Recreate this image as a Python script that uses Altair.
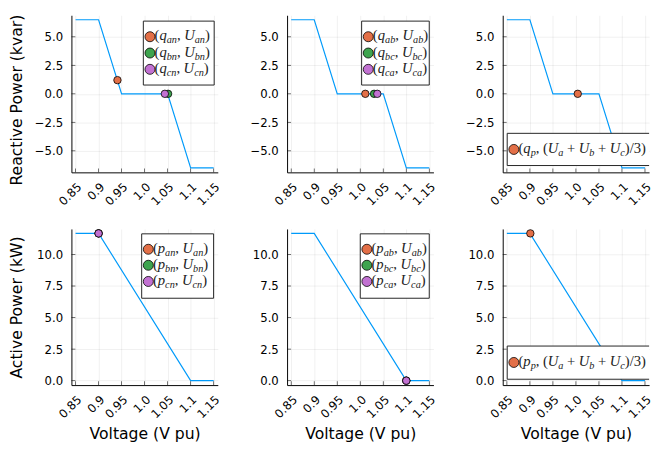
import altair as alt
import pandas as pd

# ---------------- data ----------------
# volt-var curve (kvar) and volt-watt curve (kW)
V_Q_CURVE = [0.85, 0.90, 0.95, 1.05, 1.10, 1.15]
Q_CURVE = [6.5, 6.5, 0.0, 0.0, -6.5, -6.5]
V_P_CURVE = [0.85, 0.90, 1.10, 1.15]
P_CURVE = [11.67, 11.67, 0.0, 0.0]

# operating points
Q_WYE_V = [0.941, 1.051, 1.044]
Q_WYE_Q = [1.2, 0.0, 0.0]
Q_DELTA_V = [1.011, 1.030, 1.037]
Q_DELTA_Q = [0.0, 0.0, 0.0]
Q_POS_V = [1.004]
Q_POS_Q = [0.0]
P_WYE_V = [0.900, 0.900, 0.900]
P_WYE_P = [11.67, 11.67, 11.67]
P_DELTA_V = [1.100, 1.100, 1.100]
P_DELTA_P = [0.0, 0.0, 0.0]
P_POS_V = [0.901]
P_POS_P = [11.67]

SERIES3 = ["s1", "s2", "s3"]
SERIES1 = ["s1"]

LEG_Q_WYE = ["(q_{an}, U_{an})", "(q_{bn}, U_{bn})", "(q_{cn}, U_{cn})"]
LEG_Q_DELTA = ["(q_{ab}, U_{ab})", "(q_{bc}, U_{bc})", "(q_{ca}, U_{ca})"]
LEG_Q_POS = ["(q_{p}, (U_{a} + U_{b} + U_{c})/3)"]
LEG_P_WYE = ["(p_{an}, U_{an})", "(p_{bn}, U_{bn})", "(p_{cn}, U_{cn})"]
LEG_P_DELTA = ["(p_{ab}, U_{ab})", "(p_{bc}, U_{bc})", "(p_{ca}, U_{ca})"]
LEG_P_POS = ["(p_{p}, (U_{a} + U_{b} + U_{c})/3)"]

X_TICKS = [0.85, 0.90, 0.95, 1.00, 1.05, 1.10, 1.15]
X_TICK_LABELS = ["0.85", "0.9", "0.95", "1.0", "1.05", "1.1", "1.15"]
Q_TICKS = [-5.0, -2.5, 0.0, 2.5, 5.0]
P_TICKS = [0.0, 2.5, 5.0, 7.5, 10.0]

X_TITLE = "Voltage (V pu)"
Q_TITLE = "Reactive Power (kvar)"
P_TITLE = "Active Power (kW)"

# ---------------- styling ----------------
BLUE = "#009AFA"
COLORS = ["#E36F47", "#3EA44E", "#C271D2"]
FONT = "DejaVu Sans"
W = 150
H_TOP = 161
H_BOT = 160
X_DOM = [0.841, 1.159]
Q_DOM = [-6.89, 6.89]
P_DOM = [-0.35, 12.02]

label_expr = " : ".join(
    f"abs(datum.value - {v}) < 1e-6 ? '{l}'" for v, l in zip(X_TICKS, X_TICK_LABELS)
) + " : ''"

GRID = dict(grid=True, gridColor="#000000", gridOpacity=0.1, gridWidth=0.6)


def x_axis(title):
    kw = dict(values=X_TICKS, labelExpr=label_expr, labelAngle=-45, labelAlign="right",
              labelBaseline="top", labelPadding=9, labelFlush=False, labelOverlap=False,
              labelBound=False, ticks=False, tickSize=0, domainColor="black", domainWidth=1,
              labelFont=FONT, labelFontSize=12, labelColor="black", **GRID)
    if title:
        kw.update(title=title, titleFont=FONT, titleFontSize=16, titleFontWeight="normal",
                  titleColor="black", titlePadding=6)
    else:
        kw.update(title=None)
    return alt.Axis(**kw)


def y_axis(ticks, title, title_y=None):
    kw = dict(values=ticks, format=".1f", ticks=False, tickSize=0, labelPadding=9,
              labelFlush=False, labelOverlap=False, domainColor="black", domainWidth=1,
              labelFont=FONT, labelFontSize=12, labelColor="black", minExtent=40,
              maxExtent=40, **GRID)
    if title:
        kw.update(title=title, titleFont=FONT, titleFontSize=16, titleFontWeight="normal",
                  titleColor="black", titlePadding=8)
        if title_y is not None:
            kw.update(titleY=title_y)
    else:
        kw.update(title=None)
    return alt.Axis(**kw)


# ---------------- hand-built LaTeX-like legend ----------------
UPW = {"(": 0.333, ")": 0.333, ",": 0.25, "+": 0.564, "/": 0.278, "3": 0.5}
ITW = {"q": 0.5, "p": 0.5, "U": 0.722, "a": 0.5, "n": 0.5, "b": 0.5, "c": 0.444}
MAIN, SUB, GAP = 15, 10.5, 0.24


def tokens(s):
    out, i = [], 0
    while i < len(s):
        ch = s[i]
        if ch == "_":
            j = s.index("}", i)
            out.append((s[i + 2:j], "s"))
            i = j + 1
        elif ch == " ":
            out.append((None, "g"))
            i += 1
        else:
            out.append((ch, "i" if ch.isalpha() else "u"))
            i += 1
    return out


def layout_label(s, x0, yc):
    rows, x, base = [], x0, yc + 3.7
    for t, k in tokens(s):
        if k == "g":
            x += GAP * MAIN
        elif k == "u":
            rows.append(dict(px=x, py=base, t=t, fs=MAIN, it=False))
            x += UPW[t] * MAIN
        elif k == "i":
            rows.append(dict(px=x, py=base, t=t, fs=MAIN, it=True))
            x += ITW[t] * MAIN
        else:
            rows.append(dict(px=x, py=base + 3.2, t=t, fs=SUB, it=True))
            x += sum(ITW[c] for c in t) * SUB
    return rows


def legend_layers(box, rows_y, labels, clip):
    x0, x1, y0, y1 = box
    rect = alt.Chart(pd.DataFrame({"k": [0]})).mark_rect(
        fill="white", stroke="#222222", strokeWidth=1, clip=clip
    ).encode(x=alt.value(x0), x2=alt.value(x1), y=alt.value(y0), y2=alt.value(y1))
    cx, tx = x0 + 6.8, x0 + 11.5
    n = len(labels)
    cdf = pd.DataFrame({"px": [cx] * n, "py": rows_y[:n], "c": COLORS[:n]})
    circ = alt.Chart(cdf).mark_circle(size=105, opacity=1, stroke="black", strokeWidth=0.8,
                                      clip=clip).encode(
        x=alt.X("px:Q", scale=None),
        y=alt.Y("py:Q", scale=None),
        color=alt.Color("c:N", scale=None),
    )
    pieces = []
    for lab, yc in zip(labels, rows_y):
        pieces += layout_label(lab, tx, yc)
    tdf = pd.DataFrame(pieces)
    layers = [rect, circ]
    for italic in (False, True):
        sub = tdf[tdf["it"] == italic]
        layers.append(
            alt.Chart(sub).mark_text(align="left", baseline="alphabetic", font="Liberation Serif",
                                     fontStyle="italic" if italic else "normal",
                                     color="#222222", clip=clip).encode(
                x=alt.X("px:Q", scale=None),
                y=alt.Y("py:Q", scale=None),
                text="t:N",
                size=alt.Size("fs:Q", scale=None),
            )
        )
    return layers


def panel(cv, cy, pv, py, series, ydom, yticks, h, xtitle, ytitle, box, rows_y, labels, clip,
          title_y=None):
    xs = alt.Scale(domain=X_DOM, nice=False, zero=False)
    ys = alt.Scale(domain=ydom, nice=False, zero=False)
    xa = x_axis(xtitle)
    ya = y_axis(yticks, ytitle, title_y)
    line = alt.Chart(pd.DataFrame({"v": cv, "y": cy})).mark_line(
        color=BLUE, strokeWidth=1.2
    ).encode(
        x=alt.X("v:Q", scale=xs, axis=xa),
        y=alt.Y("y:Q", scale=ys, axis=ya),
    )
    xt = alt.Chart(pd.DataFrame({"v": X_TICKS})).mark_tick(
        orient="vertical", color="black", thickness=0.8, size=4
    ).encode(x=alt.X("v:Q", scale=xs, axis=xa), y=alt.value(h - 2))
    yt = alt.Chart(pd.DataFrame({"y": yticks})).mark_tick(
        orient="horizontal", color="black", thickness=0.8, size=4
    ).encode(y=alt.Y("y:Q", scale=ys, axis=ya), x=alt.value(2))
    pts = alt.Chart(pd.DataFrame({"v": pv, "y": py, "s": series})).mark_circle(
        size=58, opacity=1, stroke="black", strokeWidth=0.8
    ).encode(
        x=alt.X("v:Q", scale=xs, axis=xa),
        y=alt.Y("y:Q", scale=ys, axis=ya),
        color=alt.Color("s:N", scale=alt.Scale(domain=SERIES3, range=COLORS), legend=None),
    )
    layers = [line, xt, yt, pts] + legend_layers(box, rows_y, labels, clip)
    return alt.layer(*layers).properties(width=W, height=h)


ROWS3 = [22.0, 38.7, 55.4]
p1 = panel(V_Q_CURVE, Q_CURVE, Q_WYE_V, Q_WYE_Q, SERIES3, Q_DOM, Q_TICKS, H_TOP, None, Q_TITLE,
           (73.7, 146.3, 6.0, 71.5), ROWS3, LEG_Q_WYE, False, title_y=H_TOP / 2 + 6)
p2 = panel(V_Q_CURVE, Q_CURVE, Q_DELTA_V, Q_DELTA_Q, SERIES3, Q_DOM, Q_TICKS, H_TOP, None, None,
           (76.4, 145.7, 6.0, 71.5), ROWS3, LEG_Q_DELTA, False)
p3 = panel(V_Q_CURVE, Q_CURVE, Q_POS_V, Q_POS_Q, SERIES1, Q_DOM, Q_TICKS, H_TOP, None, None,
           (4.6, W + 10, 121.0, 154.0), [137.5], LEG_Q_POS, True)
p4 = panel(V_P_CURVE, P_CURVE, P_WYE_V, P_WYE_P, SERIES3, P_DOM, P_TICKS, H_BOT, X_TITLE, P_TITLE,
           (72.0, 145.7, 5.0, 71.0), [20.8, 37.2, 53.8], LEG_P_WYE, False)
p5 = panel(V_P_CURVE, P_CURVE, P_DELTA_V, P_DELTA_P, SERIES3, P_DOM, P_TICKS, H_BOT, X_TITLE, None,
           (75.0, 145.7, 5.0, 71.0), [20.8, 37.2, 53.8], LEG_P_DELTA, False)
p6 = panel(V_P_CURVE, P_CURVE, P_POS_V, P_POS_P, SERIES1, P_DOM, P_TICKS, H_BOT, X_TITLE, None,
           (4.6, W + 10, 120.0, 154.0), [136.8], LEG_P_POS, True)

chart = alt.concat(p1, p2, p3, p4, p5, p6, columns=3, spacing={"row": 21, "column": 27},
                   align="each").properties(
    padding={"left": 1, "top": 0, "right": 0, "bottom": 0}
).configure(font=FONT, background="white").configure_view(strokeWidth=0)

chart.save("out.html", embed_options={"renderer": "svg", "actions": False})
